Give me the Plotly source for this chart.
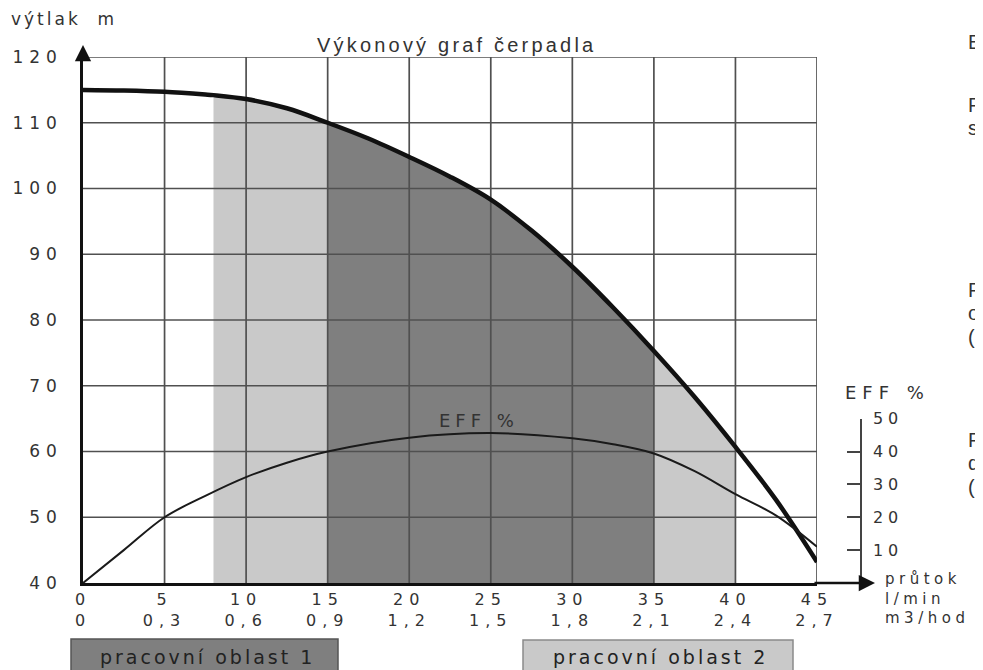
import plotly.graph_objects as go

# ---- data ----
flow_lmin = [0, 2.5, 5, 7.5, 8, 10, 12.5, 15, 17.5, 20, 22.5, 25, 27.5, 30, 32.5, 35, 37.5, 40, 42.5, 45]
head_m = [115, 114.9, 114.7, 114.3, 114.2, 113.6, 112.2, 110, 107.6, 104.8, 101.8, 98.3, 93.6, 88.1, 81.9, 75.3, 68.3, 60.7, 52.6, 43.2]

eff_flow = [0, 2.5, 5, 7.5, 10, 12.5, 15, 20, 25, 30, 32.5, 35, 37.5, 40, 42.5, 45]
eff_pct = [0, 10, 20, 26.5, 32.2, 36.6, 40, 44.2, 45.6, 44, 42.2, 39.4, 34, 27, 20.5, 11]

x_ticks = [0, 5, 10, 15, 20, 25, 30, 35, 40, 45]
x_ticks_m3h = ["0", "0,3", "0,6", "0,9", "1,2", "1,5", "1,8", "2,1", "2,4", "2,7"]
y_ticks = [40, 50, 60, 70, 80, 90, 100, 110, 120]
eff_ticks = [10, 20, 30, 40, 50]

zone1 = (15, 35)           # pracovní oblast 1 (dark)
zone2a = (8, 15)           # pracovní oblast 2 (light)
zone2b = (35, 40)

DARK = "#7f7f7f"
LIGHT = "#c9c9c9"
GRID = "#505050"
TXT = "#333333"
FONT = "DejaVu Sans"

OFF = 8  # page body margin
W, H = 983, 670
L, T = 83 - OFF, 57 - OFF
B = H - (583 - OFF)
R = W - (900 - OFF)
PW = W - L - R
PH = H - T - B


def px2paper_x(px):
    return (px - OFF - L) / PW


def px2paper_y(py):
    return (H - B - (py - OFF)) / PH


def ls(text, sp):
    return f'<span style="letter-spacing:{sp}px">{text}</span>'


fig = go.Figure()


def seg(lo, hi):
    xs = [x for x in flow_lmin if lo <= x <= hi]
    ys = [h for x, h in zip(flow_lmin, head_m) if lo <= x <= hi]
    return xs, ys


for (lo, hi), col in [(zone2a, LIGHT), (zone1, DARK), (zone2b, LIGHT)]:
    xs, ys = seg(lo, hi)
    fig.add_trace(go.Scatter(x=xs, y=ys, mode="lines", fill="tozeroy", fillcolor=col,
                             line=dict(width=0, color=col, shape="spline"),
                             hoverinfo="skip"))

# grid lines drawn above the shaded areas
gx, gy = [], []
for xv in x_ticks[1:]:
    gx += [xv, xv, None]
    gy += [y_ticks[0], y_ticks[-1], None]
for yv in y_ticks[1:]:
    gx += [x_ticks[0], x_ticks[-1], None]
    gy += [yv, yv, None]
fig.add_trace(go.Scatter(x=gx, y=gy, mode="lines", line=dict(color=GRID, width=1.7),
                         hoverinfo="skip"))

# efficiency curve on its own axis
fig.add_trace(go.Scatter(x=eff_flow, y=eff_pct, mode="lines", xaxis="x", yaxis="y2",
                         line=dict(color="#1a1a1a", width=2, shape="spline"),
                         hoverinfo="skip"))

# head curve
fig.add_trace(go.Scatter(x=flow_lmin, y=head_m, mode="lines",
                         line=dict(color="#111111", width=4.5, shape="spline"),
                         hoverinfo="skip"))

xdom = px2paper_x(817)

fig.update_layout(
    width=W, height=H,
    margin=dict(l=L, r=R, t=T, b=B, autoexpand=False),
    paper_bgcolor="white", plot_bgcolor="rgba(0,0,0,0)",
    showlegend=False,
    font=dict(family=FONT, color=TXT),
    xaxis=dict(domain=[0, xdom], range=[0, 45], tickmode="array", tickvals=x_ticks,
               ticktext=[ls(f"{a}<br>{b}", 6) for a, b in zip(x_ticks, x_ticks_m3h)],
               showgrid=False, zeroline=False, showline=True, linecolor="#111111",
               linewidth=2.5, ticks="", tickfont=dict(size=16, color=TXT, family=FONT),
               ticklabelstandoff=0, anchor="y", fixedrange=True, automargin=False),
    yaxis=dict(domain=[0, 1], range=[40, 120], tickmode="array", tickvals=y_ticks,
               ticktext=[ls(str(v), 6) for v in y_ticks],
               showgrid=False, zeroline=False, showline=True, linecolor="#111111",
               linewidth=2.5, ticks="", tickfont=dict(size=17, color=TXT, family=FONT),
               ticklabelstandoff=14, anchor="x", fixedrange=True, automargin=False),
    yaxis2=dict(domain=[0, 0.3125], range=[0, 50], tickmode="array", tickvals=eff_ticks,
                ticktext=[ls(str(v), 5) for v in eff_ticks],
                side="right", anchor="free", position=px2paper_x(861),
                showgrid=False, zeroline=False, showline=True, linecolor="#444444",
                linewidth=1.5, ticks="inside", ticklen=13, tickwidth=1.5, tickcolor="#444444",
                tickfont=dict(size=16, color=TXT, family=FONT), ticklabelstandoff=8,
                fixedrange=True, automargin=False),
)

ann = []
# axis arrows
ann.append(dict(xref="x", yref="paper", x=0, y=px2paper_y(45), ax=0, ay=16,
                showarrow=True, arrowhead=2, arrowsize=1.3, arrowwidth=2.5,
                arrowcolor="#111111", text=""))
ann.append(dict(xref="paper", yref="paper", x=px2paper_x(875), y=0, ax=-62, ay=0,
                showarrow=True, arrowhead=2, arrowsize=1.3, arrowwidth=2.5,
                arrowcolor="#111111", text=""))


def txt(text, px, py, size=15, xanchor="left", color=TXT, sp=0, family=FONT):
    ann.append(dict(xref="paper", yref="paper", x=px2paper_x(px), y=px2paper_y(py),
                    text=ls(text, sp) if sp else text, showarrow=False,
                    xanchor=xanchor, yanchor="middle", align="left",
                    font=dict(size=size, color=color, family=family)))


txt("výtlak  m", 9, 19, size=17, sp=3)
txt("Výkonový graf čerpadla", 456, 45, size=20, xanchor="center", sp=3.2,
    family="Liberation Sans")
txt("EFF %", 479, 421, size=18, xanchor="center", sp=5)
txt("EFF %", 843, 392, size=18, sp=6)
txt("průtok<br>l/min<br>m3/hod", 883, 598, size=15, sp=4.5)

# cut-off side text on the right edge
for t_, y_ in [("E", 42), ("P", 105), ("se", 128), ("P", 290), ("o", 313), ("(c", 337),
               ("P", 440), ("d", 463), ("(c", 487)]:
    txt(t_, 966, y_, size=20, sp=1, family="Liberation Sans")

# legend boxes at bottom
shapes = [
    dict(type="rect", xref="paper", yref="paper", x0=px2paper_x(71), x1=px2paper_x(338),
         y0=px2paper_y(678), y1=px2paper_y(639), fillcolor=DARK,
         line=dict(color="#555555", width=1.5), layer="above"),
    dict(type="rect", xref="paper", yref="paper", x0=px2paper_x(523), x1=px2paper_x(793),
         y0=px2paper_y(678), y1=px2paper_y(640), fillcolor=LIGHT,
         line=dict(color="#8a8a8a", width=1.5), layer="above"),
]
txt("pracovní oblast 1", 207, 657, size=19, xanchor="center", color="#222222", sp=3)
txt("pracovní oblast 2", 660, 657, size=19, xanchor="center", color="#222222", sp=3)

fig.update_layout(annotations=ann, shapes=shapes)
fig.write_html("out.html")
